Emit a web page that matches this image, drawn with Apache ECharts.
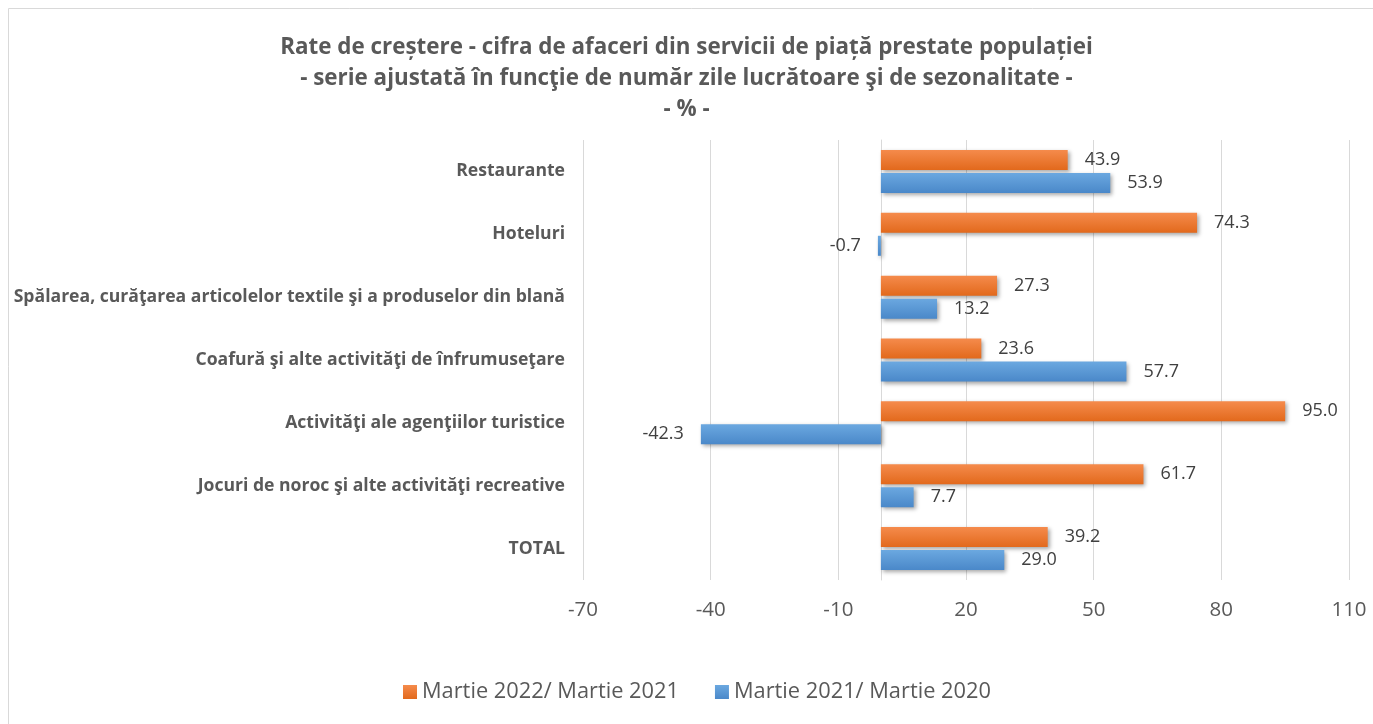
<!DOCTYPE html>
<html>
<head>
<meta charset="utf-8">
<script src="https://cdn.jsdelivr.net/npm/echarts@6/dist/echarts.min.js"></script>
<style>
  html, body { margin: 0; padding: 0; background: #fff; }
  #chart { width: 1373px; height: 724px; }
</style>
</head>
<body>
<div id="chart"></div>
<script>
const categories = [
    'Restaurante',
    'Hoteluri',
    'Spălarea, curăţarea articolelor textile şi a produselor din blană',
    'Coafură şi alte activităţi de înfrumuseţare',
    'Activităţi ale agenţiilor turistice',
    'Jocuri de noroc şi alte activităţi recreative',
    'TOTAL'
];
const seriesNames = ['Martie 2022/ Martie 2021', 'Martie 2021/ Martie 2020'];
const values2022 = [43.9, 74.3, 27.3, 23.6, 95.0, 61.7, 39.2];
const values2021 = [53.9, -0.7, 13.2, 57.7, -42.3, 7.7, 29.0];
const titleLines = [
    'Rate de creștere - cifra de afaceri din servicii de piață prestate populației',
    '- serie ajustată în funcţie de număr zile lucrătoare şi de sezonalitate -',
    '- % -'
];

const FONT = '"Open Sans"';
const grey = '#595959';

function grad(top, bottom) {
    return new echarts.graphic.LinearGradient(0, 0, 0, 1, [
        { offset: 0, color: top },
        { offset: 1, color: bottom }
    ]);
}

function barSeries(name, data, top, bottom) {
    return {
        name: name,
        type: 'bar',
        data: data,
        barWidth: 20,
        barGap: '15%',
        itemStyle: {
            color: grad(top, bottom),
            shadowBlur: 4,
            shadowColor: 'rgba(0,0,0,0.35)',
            shadowOffsetX: 2,
            shadowOffsetY: 2
        },
        label: {
            show: true,
            position: 'outside',
            distance: 17,
            fontFamily: FONT,
            fontSize: 18,
            color: '#404040',
            formatter: p => p.value.toFixed(1)
        }
    };
}

const chart = echarts.init(document.getElementById('chart'));
chart.setOption({
    animation: false,
    textStyle: { fontFamily: FONT },
    title: titleLines.map((t, i) => ({
        text: t,
        left: 'center',
        top: 32 + i * 31,
        textStyle: { fontFamily: FONT, fontSize: 22.4, fontWeight: 'bold', color: grey }
    })),
    graphic: [{
        type: 'rect',
        shape: { x: 8.5, y: 8.5, width: 1400, height: 800 },
        style: { fill: 'none', stroke: '#d9d9d9', lineWidth: 1 },
        silent: true
    }],
    legend: {
        bottom: 16,
        left: 398,
        itemWidth: 14,
        itemHeight: 14,
        itemGap: 36,
        icon: 'rect',
        textStyle: { fontFamily: FONT, fontSize: 21.8, color: grey },
        data: seriesNames
    },
    grid: { left: 583, right: 24, top: 140, bottom: 144, containLabel: false },
    xAxis: {
        type: 'value',
        min: -70,
        max: 110,
        interval: 30,
        axisLine: { show: false },
        axisTick: { show: false },
        splitLine: { lineStyle: { color: '#d9d9d9', width: 1 } },
        axisLabel: { fontFamily: FONT, fontSize: 20.5, color: grey, margin: 20 }
    },
    yAxis: {
        type: 'category',
        inverse: true,
        data: categories,
        axisLine: { onZero: true, lineStyle: { color: '#d9d9d9' } },
        axisTick: { show: false },
        axisLabel: { fontFamily: FONT, fontSize: 17.6, fontWeight: 'bold', color: grey, margin: 18 }
    },
    series: [
        barSeries(seriesNames[0], values2022, '#F58B4C', '#E2691C'),
        barSeries(seriesNames[1], values2021, '#6BA8E0', '#4A88C9')
    ]
});
</script>
</body>
</html>
